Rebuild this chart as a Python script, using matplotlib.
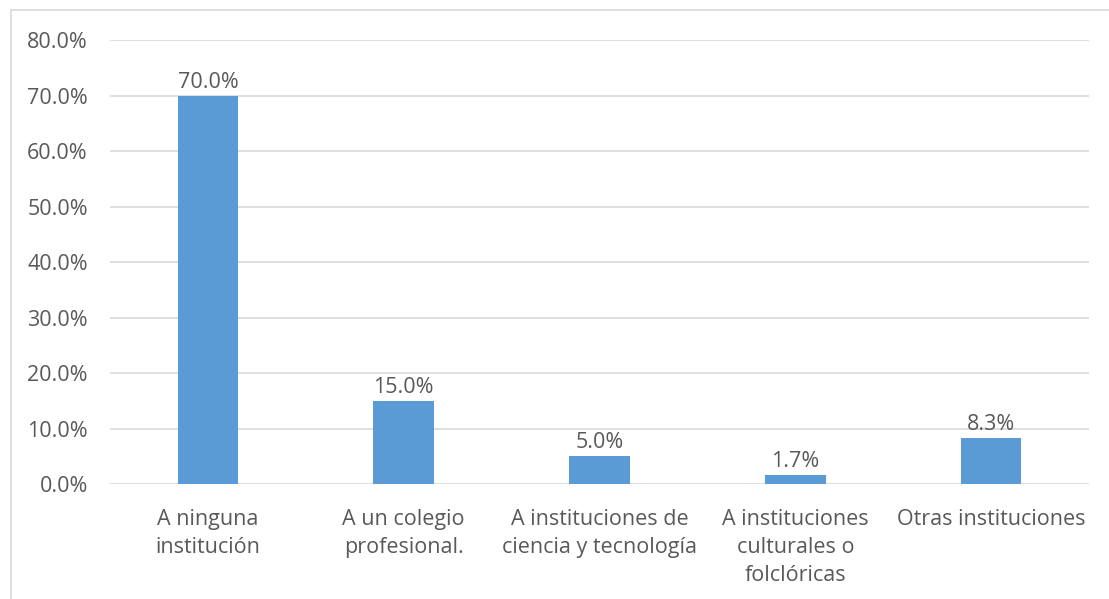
import matplotlib
matplotlib.use("Agg")
import matplotlib.pyplot as plt
from matplotlib.patches import Rectangle
from matplotlib.ticker import FuncFormatter

categories = [
    "A ninguna\ninstitución",
    "A un colegio\nprofesional.",
    "A instituciones de\nciencia y tecnología",
    "A instituciones\nculturales o\nfolclóricas",
    "Otras instituciones",
]
values = [70.0, 15.0, 5.0, 1.7, 8.3]
yticks = [0, 10, 20, 30, 40, 50, 60, 70, 80]

TEXT = "#595959"
GRID = "#d9d9d9"
BAR = "#5b9bd5"
FS = 15.5

plt.rcParams["font.family"] = ["Open Sans", "DejaVu Sans"]

fig = plt.figure(figsize=(11.09, 5.99), dpi=100)
ax = fig.add_axes([0.0992, 0.192, 0.8828, 0.741])

x = range(len(categories))
bars = ax.bar(x, values, width=0.31, color=BAR, zorder=3)
for b, v in zip(bars, values):
    ax.text(b.get_x() + b.get_width() / 2, v + 0.5, f"{v:.1f}%",
            ha="center", va="bottom", fontsize=FS, color=TEXT)

ax.set_xlim(-0.5, len(categories) - 0.5)
ax.set_ylim(0, 80)
ax.set_yticks(yticks)
ax.yaxis.set_major_formatter(FuncFormatter(lambda v, _: f"{v:.1f}%"))
ax.set_xticks(list(x))
ax.set_xticklabels(categories, linespacing=1.45)
ax.tick_params(axis="both", length=0, colors=TEXT, labelsize=FS)
ax.tick_params(axis="y", pad=16)
ax.tick_params(axis="x", pad=18)
ax.grid(axis="y", color=GRID, linewidth=1.2, zorder=0)
for s in ax.spines.values():
    s.set_visible(False)

fig.patches.append(Rectangle((11 / 1109, -0.05), 1.1, 1.05 - 10 / 599,
                             transform=fig.transFigure, fill=False,
                             edgecolor=GRID, linewidth=1.2))

fig.savefig("out.png", dpi=100)
